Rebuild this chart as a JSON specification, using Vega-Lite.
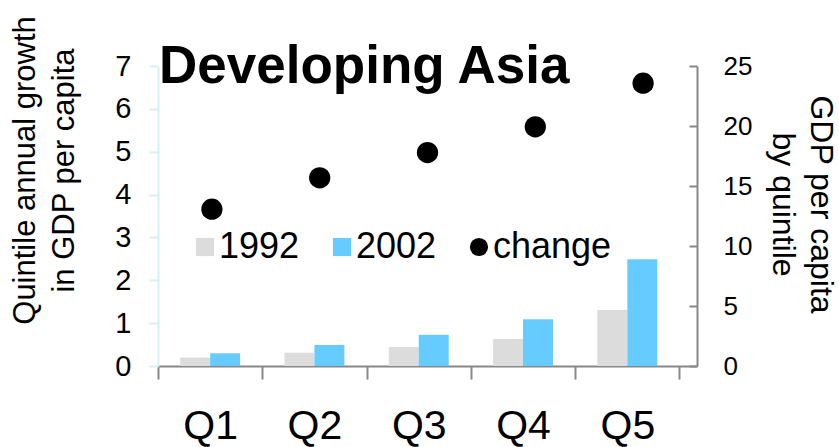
{
  "$schema": "https://vega.github.io/schema/vega-lite/v6.json",
  "width": 539,
  "height": 300,
  "autosize": {"type": "none"},
  "padding": {"left": 158, "top": 66, "right": 142, "bottom": 81},
  "config": {"font": "Liberation Sans", "view": {"stroke": null}},
  "title": {"text": "Developing Asia", "orient": "none", "anchor": "start", "frame": "group", "fontSize": 53, "fontWeight": "bold", "color": "#000000", "baseline": "alphabetic", "offset": 0, "dx": 1, "dy": 17},
  "datasets": {
    "bars": [
      {"quintile": "Q1", "series": "1992", "gdp": 0.7},
      {"quintile": "Q1", "series": "2002", "gdp": 1.06},
      {"quintile": "Q2", "series": "1992", "gdp": 1.11},
      {"quintile": "Q2", "series": "2002", "gdp": 1.75},
      {"quintile": "Q3", "series": "1992", "gdp": 1.58},
      {"quintile": "Q3", "series": "2002", "gdp": 2.6},
      {"quintile": "Q4", "series": "1992", "gdp": 2.25},
      {"quintile": "Q4", "series": "2002", "gdp": 3.9},
      {"quintile": "Q5", "series": "1992", "gdp": 4.67},
      {"quintile": "Q5", "series": "2002", "gdp": 8.9}
    ],
    "growth": [
      {"quintile": "Q1", "series": "change", "growth": 3.66},
      {"quintile": "Q2", "series": "change", "growth": 4.39},
      {"quintile": "Q3", "series": "change", "growth": 4.98},
      {"quintile": "Q4", "series": "change", "growth": 5.58},
      {"quintile": "Q5", "series": "change", "growth": 6.6}
    ]
  },
  "layer": [
    {
      "data": {"name": "bars"},
      "mark": {"type": "bar"},
      "encoding": {
        "x": {"field": "quintile", "type": "nominal", "sort": ["Q1", "Q2", "Q3", "Q4", "Q5"],
          "scale": {"paddingInner": 0, "paddingOuter": 0.084, "align": 0},
          "axis": {"orient": "bottom", "title": null, "labelAngle": 0, "labelFontSize": 41, "labelColor": "#000000", "labelPadding": 27, "tickBand": "extent", "ticks": true, "tickSize": 13, "tickWidth": 2, "tickColor": "#888888", "domainColor": "#888888", "domainWidth": 2, "grid": false}},
        "xOffset": {"field": "series", "type": "nominal", "scale": {"paddingInner": 0, "paddingOuter": 0.74}},
        "y": {"field": "gdp", "type": "quantitative", "scale": {"domain": [0, 25]},
          "axis": {"orient": "right", "values": [0, 5, 10, 15, 20, 25], "grid": false, "domainColor": "#888888", "domainWidth": 2, "tickColor": "#888888", "tickWidth": 2, "tickSize": -8, "labelFontSize": 26, "labelColor": "#000000", "labelPadding": 34,
            "title": ["GDP per capita", "by quintile"], "titleFontSize": 32, "titleFontWeight": "normal", "titleColor": "#000000", "titleAngle": 90, "titleAlign": "center", "titleBaseline": "alphabetic", "titleLineHeight": 38, "titleX": 113, "titleY": 138}},
        "color": {"field": "series", "type": "nominal",
          "scale": {"domain": ["1992", "2002", "change"], "range": ["#dcdcdc", "#66ccff", "#000000"]},
          "legend": {"title": null, "orient": "none", "legendX": 29, "legendY": 163, "direction": "horizontal", "symbolSize": 330, "labelFontSize": 36, "labelColor": "#000000", "columnPadding": 24, "gridAlign": "none", "labelOffset": -4, "symbolStrokeWidth": 0, "symbolOpacity": 1}}
      }
    },
    {
      "data": {"name": "growth"},
      "mark": {"type": "point", "filled": true, "size": 452, "opacity": 1},
      "encoding": {
        "x": {"field": "quintile", "type": "nominal", "sort": ["Q1", "Q2", "Q3", "Q4", "Q5"], "scale": {"padding": 0.5}, "axis": null},
        "y": {"field": "growth", "type": "quantitative", "scale": {"domain": [0, 7]},
          "axis": {"orient": "left", "values": [0, 1, 2, 3, 4, 5, 6, 7], "grid": false, "domainColor": "#d6f1f5", "domainWidth": 2, "tickColor": "#d6f1f5", "tickWidth": 2, "tickSize": 9, "labelFontSize": 29, "labelColor": "#000000", "labelPadding": 18,
            "title": ["Quintile annual growth", "in GDP per capita"], "titleFontSize": 31, "titleFontWeight": "normal", "titleColor": "#000000", "titleAngle": -90, "titleAlign": "center", "titleBaseline": "alphabetic", "titleLineHeight": 39, "titleX": -124, "titleY": 104}},
        "color": {"field": "series", "type": "nominal"},
        "shape": {"field": "series", "type": "nominal",
          "scale": {"domain": ["1992", "2002", "change"], "range": ["square", "square", "circle"]},
          "legend": {"title": null, "orient": "none", "legendX": 29, "legendY": 163, "direction": "horizontal", "symbolSize": 330, "labelFontSize": 36, "labelColor": "#000000", "columnPadding": 24, "gridAlign": "none", "labelOffset": -4, "symbolStrokeWidth": 0, "symbolOpacity": 1}}
      }
    }
  ],
  "resolve": {"scale": {"x": "independent", "y": "independent"}}
}
